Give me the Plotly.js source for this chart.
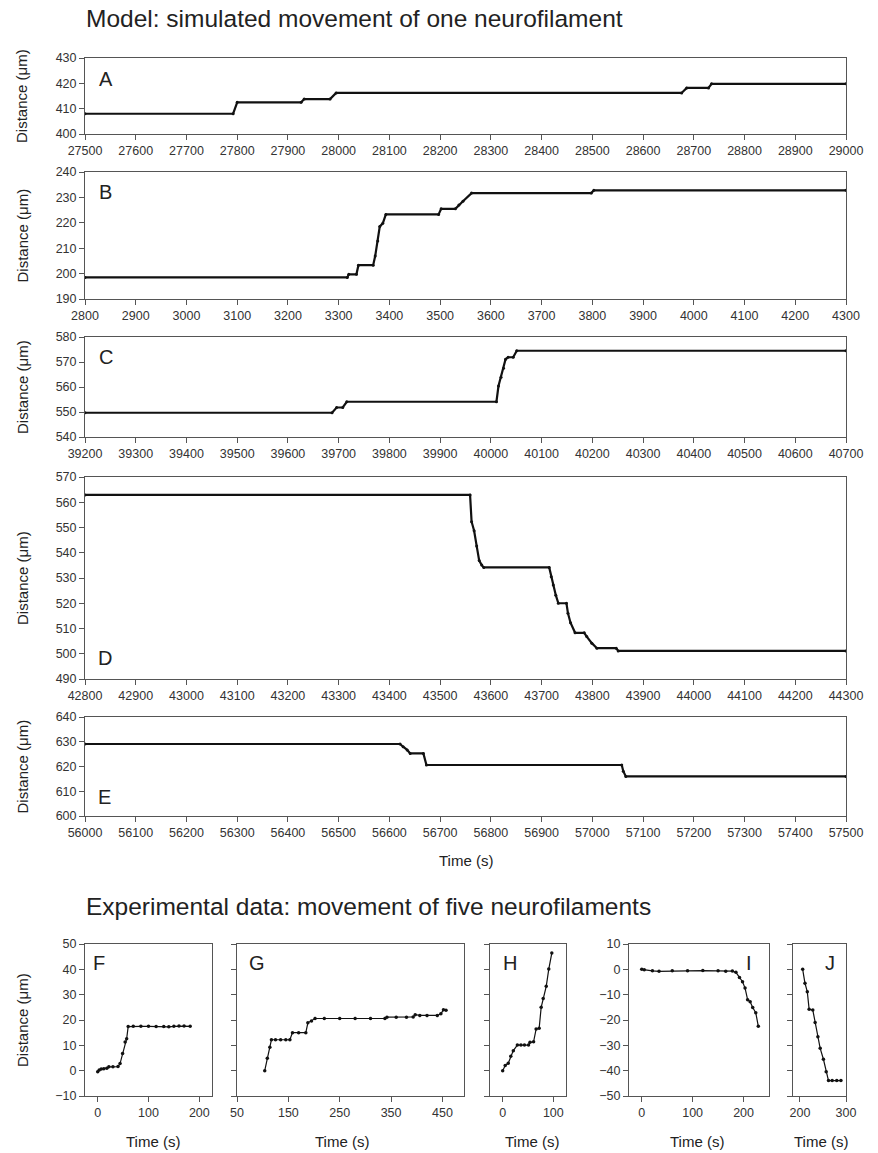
<!DOCTYPE html>
<html>
<head>
<meta charset="utf-8">
<script src="https://cdn.plot.ly/plotly-3.0.1.min.js"></script>
<style>html,body{margin:0;padding:0;background:#fff;}#chart{width:878px;height:1153px;}</style>
</head>
<body>
<div id="chart"></div>
<script>
// ---- Data (time in s, distance in µm) ----
// Model panels
const aTime = [27500, 27792, 27800, 27926, 27932, 27983, 27995, 28676, 28686, 28729, 28735, 29000];
const aDist = [408, 408, 412.5, 412.5, 413.8, 413.8, 416.2, 416.2, 418.2, 418.2, 419.8, 419.8];

const bTime = [2800, 3317, 3320, 3335, 3339, 3368, 3372, 3377, 3381, 3387, 3393, 3497, 3502, 3530, 3537, 3545, 3562, 3798, 3803, 4300];
const bDist = [198.5, 198.5, 199.7, 199.7, 203.3, 203.3, 206.9, 212.8, 218.5, 219.8, 223.3, 223.3, 225.5, 225.5, 227, 228.5, 231.7, 231.7, 232.8, 232.8];

const cTime = [39200, 39687, 39696, 39708, 39716, 40011, 40015, 40020, 40025, 40029, 40034, 40044, 40051, 40700];
const cDist = [549.7, 549.7, 551.8, 551.8, 554.1, 554.1, 560.4, 563.9, 567.5, 571.1, 571.9, 571.9, 574.5, 574.5];

const dTime = [42800, 43559, 43562, 43567, 43572, 43577, 43582, 43586, 43715, 43719, 43723, 43728, 43733, 43749, 43752, 43757, 43766, 43784, 43789, 43799, 43809, 43847, 43851, 44300];
const dDist = [562.9, 562.9, 552.3, 548.7, 542.7, 536.9, 535.1, 534.2, 534.2, 530.5, 527.2, 523.2, 520.0, 520.0, 516.0, 512.3, 508.3, 508.3, 506.8, 504.2, 502.2, 502.2, 501.1, 501.1];

const eTime = [56000, 56621, 56627, 56635, 56641, 56667, 56673, 57058, 57061, 57066, 57500];
const eDist = [629.1, 629.1, 628.0, 626.7, 625.3, 625.3, 620.6, 620.6, 618.1, 616.0, 616.0];

// Experimental panels
const fTime = [0, 3, 7, 12, 18, 22, 30, 40, 44, 49, 54, 57, 60, 70, 85, 100, 115, 130, 140, 150, 160, 170, 182];
const fDist = [-0.4, 0.3, 0.7, 0.8, 1.0, 1.5, 1.5, 1.6, 2.8, 6.8, 11.3, 12.6, 17.4, 17.5, 17.5, 17.5, 17.4, 17.4, 17.3, 17.5, 17.6, 17.6, 17.5];

const gTime = [104, 109, 114, 117, 125, 135, 145, 153, 158, 170, 184, 188, 195, 202, 220, 250, 280, 310, 338, 342, 360, 380, 393, 397, 406, 420, 440, 447, 452, 457];
const gDist = [0, 4.9, 9.2, 12.2, 12.2, 12.2, 12.2, 12.2, 15.0, 15.0, 15.0, 18.9, 19.6, 20.6, 20.6, 20.6, 20.6, 20.6, 20.6, 21.1, 21.1, 21.1, 21.2, 22.1, 21.8, 21.8, 21.8, 22.5, 24.0, 23.8];

const hTime = [0, 5, 11, 16, 21, 29, 36, 43, 51, 54, 61, 66, 72, 76, 80, 86, 91, 97];
const hDist = [0, 2.0, 2.9, 5.7, 7.9, 10.1, 10.1, 10.1, 10.1, 11.2, 11.4, 16.4, 16.7, 25.0, 28.5, 33.3, 40.1, 46.4];

const iTime = [0, 5, 21, 34, 60, 90, 120, 150, 165, 178, 185, 192, 198, 203, 208, 213, 218, 224, 229];
const iDist = [0, -0.2, -0.6, -0.8, -0.6, -0.6, -0.5, -0.6, -0.8, -0.7, -1.2, -3.2, -4.9, -7.4, -12.0, -12.8, -15.1, -17.1, -22.5];

const jTime = [206, 211, 216, 220, 228, 233, 239, 244, 251, 257, 262, 270, 280, 289];
const jDist = [0, -5.5, -8.8, -15.8, -16.1, -21.0, -26.6, -31.2, -35.5, -40.4, -43.9, -43.9, -43.9, -43.9];

// Axis ranges / ticks
const panelLetters = ['A', 'B', 'C', 'D', 'E', 'F', 'G', 'H', 'I', 'J'];
const xRanges = [[27500, 29000], [2800, 4300], [39200, 40700], [42800, 44300], [56000, 57500],
                 [-25, 225], [50, 492], [-25, 125], [-25, 250], [185, 300]];
const yRanges = [[400, 430], [190, 240], [540, 580], [490, 570], [600, 640],
                 [-10, 50], [-10, 50], [-10, 50], [-50, 10], [-50, 10]];
const xTick0 = [27500, 2800, 39200, 42800, 56000, 0, 50, 0, 0, 200];
const yShowLabels = [true, true, true, true, true, true, false, false, true, false];

const titleTop = 'Model: simulated movement of one neurofilament';
const titleBottom = 'Experimental data: movement of five neurofilaments';
const yTitle = 'Distance (\u03bcm)';
const xTitle = 'Time (s)';

// ---- Layout geometry (pixels) ----
const W = 878, H = 1153;
const boxes = [ // [left, right, top, bottom]
  [85, 846, 58, 134],
  [85, 846, 172, 299],
  [85, 846, 337, 437],
  [85, 846, 477, 679],
  [85, 846, 717, 816],
  [85, 212, 944, 1096],
  [237, 464, 944, 1096],
  [490, 566, 944, 1096],
  [629, 769, 944, 1096],
  [793, 846, 944, 1096]
];
const letterPos = [ // [x, y, anchor]
  [97, 79, 'left'], [97, 192, 'left'], [97, 357, 'left'], [96, 658, 'left'], [96, 797, 'left'],
  [91, 963, 'left'], [247, 963, 'left'], [501, 963, 'left'], [749, 963, 'center'], [830, 963, 'center']
];

const FONT = '"Liberation Sans", Arial, Helvetica, sans-serif';
const series = [[aTime, aDist], [bTime, bDist], [cTime, cDist], [dTime, dDist], [eTime, eDist],
                [fTime, fDist], [gTime, gDist], [hTime, hDist], [iTime, iDist], [jTime, jDist]];

const traces = [];
const layout = {
  width: W, height: H,
  margin: {l: 0, r: 0, t: 0, b: 0},
  paper_bgcolor: '#fff', plot_bgcolor: '#fff',
  showlegend: false,
  font: {family: FONT, color: '#222', size: 12.5},
  annotations: []
};

function px(x) { return x / W; }
function py(y) { return 1 - y / H; }

series.forEach((s, i) => {
  const n = i + 1;
  const xa = 'x' + (n === 1 ? '' : n), ya = 'y' + (n === 1 ? '' : n);
  const top = i < 5;
  traces.push({
    x: s[0], y: s[1], xaxis: xa, yaxis: ya,
    type: 'scatter', mode: 'lines+markers',
    line: {color: '#111', width: top ? 2.2 : 1.2},
    marker: {color: '#111', size: top ? 3 : 3.5},
    hoverinfo: 'skip'
  });
  const b = boxes[i];
  const common = {
    showgrid: false, zeroline: false, showline: true, mirror: true,
    linecolor: '#555', linewidth: 1, ticks: 'outside', ticklen: 5,
    tickcolor: '#555', tickwidth: 1, fixedrange: true,
    tickformat: 'd',
    tickfont: {family: FONT, size: 12.5, color: '#333'}
  };
  layout['xaxis' + (n === 1 ? '' : n)] = Object.assign({}, common, {
    domain: [px(b[0]), px(b[1])], anchor: ya, range: xRanges[i],
    tick0: xTick0[i], dtick: 100, tickmode: 'linear'
  });
  layout['yaxis' + (n === 1 ? '' : n)] = Object.assign({}, common, {
    domain: [py(b[3]), py(b[2])], anchor: xa, range: yRanges[i],
    tick0: 0, dtick: 10, tickmode: 'linear', showticklabels: yShowLabels[i]
  });
  // panel letter
  const lp = letterPos[i];
  layout.annotations.push({
    xref: 'paper', yref: 'paper', x: px(lp[0]), y: py(lp[1]),
    xanchor: lp[2], yanchor: 'middle', showarrow: false,
    text: panelLetters[i], font: {family: FONT, size: 20, color: '#222'}
  });
  // y titles for model panels
  if (top) {
    layout.annotations.push({
      xref: 'paper', yref: 'paper', x: px(22), y: py((b[2] + b[3]) / 2),
      xanchor: 'center', yanchor: 'middle', showarrow: false, textangle: -90,
      text: yTitle, font: {family: FONT, size: 15, color: '#222'}
    });
  }
});

// x titles
const timeTitles = [[465.5, 860], [153, 1141], [342, 1141], [532, 1141], [697, 1141], [821, 1141]];
timeTitles.forEach(t => layout.annotations.push({
  xref: 'paper', yref: 'paper', x: px(t[0]), y: py(t[1]),
  xanchor: 'center', yanchor: 'middle', showarrow: false,
  text: xTitle, font: {family: FONT, size: 15, color: '#222'}
}));
// y title for experimental panels
layout.annotations.push({
  xref: 'paper', yref: 'paper', x: px(22), y: py(1020),
  xanchor: 'center', yanchor: 'middle', showarrow: false, textangle: -90,
  text: yTitle, font: {family: FONT, size: 15, color: '#222'}
});
// section titles
layout.annotations.push({
  xref: 'paper', yref: 'paper', x: px(84), y: py(19),
  xanchor: 'left', yanchor: 'middle', showarrow: false,
  text: titleTop, font: {family: FONT, size: 24.5, color: '#222'}
});
layout.annotations.push({
  xref: 'paper', yref: 'paper', x: px(84), y: py(906),
  xanchor: 'left', yanchor: 'middle', showarrow: false,
  text: titleBottom, font: {family: FONT, size: 24.5, color: '#222'}
});

Plotly.newPlot('chart', traces, layout, {staticPlot: true, displayModeBar: false});
</script>
</body>
</html>
